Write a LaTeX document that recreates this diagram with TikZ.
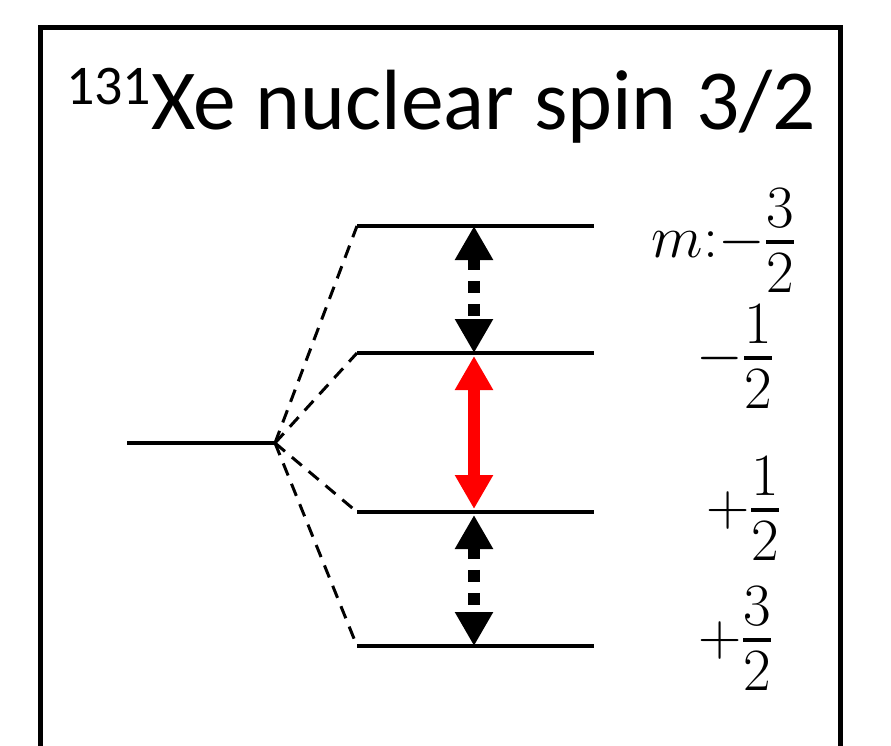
\RequirePackage{fix-cm}
\documentclass[tikz,border=0pt]{standalone}
\usepackage{amsmath}
\usepackage{fontspec}
\usetikzlibrary{arrows.meta}
\newfontfamily\calibri{Carlito}
% compact stacked fraction for the m labels
\newcommand{\levfrac}[2]{\genfrac{}{}{4pt}{1}%
    {\displaystyle #1\rule[-9pt]{0pt}{9pt}}{\displaystyle\rule{0pt}{44pt}#2}}

\begin{document}
\begin{tikzpicture}[x=1pt, y=-1pt,
    level/.style={line width=3.3pt},
    split/.style={line width=3pt, dash pattern=on 13pt off 9pt},
    fat/.style={line width=12pt, {Triangle[width=36pt,length=34pt]}-{Triangle[width=36pt,length=34pt]}},
    dots/.style={fat, dash pattern=on 12pt off 11pt},
    mlab/.style={anchor=base east, inner sep=0pt, font=\fontsize{60}{66}\selectfont}]
\useasboundingbox (0,0) rectangle (891,746);
% frame, open at the bottom
\draw[line width=5pt] (40,746) |- (840,28) -- (840,746);
\node[anchor=base, inner sep=0pt, font=\calibri\fontsize{85.5}{92}\selectfont] (title) at (441,130)
    {\raisebox{25pt}{\fontsize{56}{60}\selectfont 131}Xe nuclear spin 3/2};

% levels
\coordinate (g0) at (127,443);
\coordinate (apex) at (275,443);
\foreach \i/\y in {1/226, 2/353, 3/512, 4/646} {
    \coordinate (w\i) at (357,\y);
    \coordinate (e\i) at (594,\y);
    \coordinate (c\i) at (474,\y);
}
\draw[level, line width=4pt] (g0) -- (apex);
\foreach \i in {1,...,4} {
    \draw[level] (w\i) -- (e\i);
    \draw[split] (apex) -- (w\i);
}

% transitions
\draw[dots] (c1) -- (c2);
\draw[fat, red] ([yshift=-3pt]c2) -- ([yshift=3pt]c3);
\draw[dots] ([yshift=-3pt]c3) -- (c4);

% m labels
\node[mlab] (m1) at (795,257) {$m{:}{-}\levfrac{3}{2}$};
\node[mlab] (m2) at (773,373) {${-}\levfrac{1}{2}$};
\node[mlab] (m3) at (780,525) {${+}\levfrac{1}{2}$};
\node[mlab] (m4) at (772,655) {${+}\levfrac{3}{2}$};
\end{tikzpicture}
\end{document}
